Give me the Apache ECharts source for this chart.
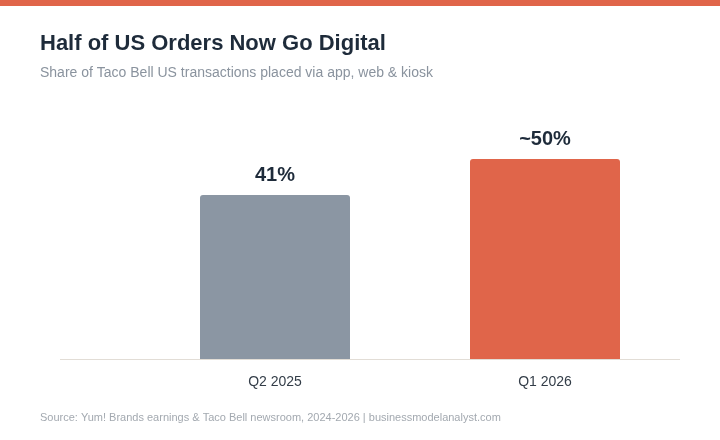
<!DOCTYPE html>
<html>
<head>
<meta charset="utf-8">
<script src="https://cdn.jsdelivr.net/npm/echarts@6/dist/echarts.min.js"></script>
<style>html,body{margin:0;padding:0;background:#fff;}#chart{width:720px;height:440px;}</style>
</head>
<body>
<div id="chart"></div>
<script>
const categories = ['Q2 2025', 'Q1 2026'];
const values = [41, 50];
const valueLabels = ['41%', '~50%'];
const barColors = ['#8b96a3', '#e0654a'];

const chart = echarts.init(document.getElementById('chart'));
const option = {
	backgroundColor: '#fff',
	animation: false,
	graphic: [
		{ type: 'rect', left: 0, top: 0, shape: { width: 720, height: 6 }, style: { fill: '#e0654a' } },
		{ type: 'text', left: 40, top: 33, style: { text: 'Half of US Orders Now Go Digital', font: 'bold 22px "Liberation Sans", Arial, sans-serif', fill: '#1e2b3a' } },
		{ type: 'text', left: 40, top: 66, style: { text: 'Share of Taco Bell US transactions placed via app, web & kiosk', font: '14px "Liberation Sans", Arial, sans-serif', fill: '#8a939e' } },
		{ type: 'line', shape: { x1: 60, y1: 359.5, x2: 680, y2: 359.5 }, style: { stroke: '#e2ddd6', lineWidth: 1 } },
		{ type: 'text', left: 40, top: 412, style: { text: 'Source: Yum! Brands earnings & Taco Bell newsroom, 2024-2026 | businessmodelanalyst.com', font: '11px "Liberation Sans", Arial, sans-serif', fill: '#a3a9b0' } }
	],
	grid: { left: 140, right: 40, top: 119, bottom: 81 },
	xAxis: {
		type: 'category',
		data: categories,
		axisLine: { show: false },
		axisTick: { show: false },
		axisLabel: { color: '#333d48', fontSize: 14, margin: 16, fontFamily: '"Liberation Sans", Arial, sans-serif' }
	},
	yAxis: { type: 'value', min: 0, max: 60, show: false },
	series: [{
		type: 'bar',
		barWidth: 150,
		data: values.map((v, i) => ({ value: v, itemStyle: { color: barColors[i], borderRadius: [3, 3, 0, 0] } })),
		label: {
			show: true,
			position: 'top',
			distance: 10,
			formatter: p => valueLabels[p.dataIndex],
			color: '#1e2b3a',
			fontSize: 20,
			fontWeight: 'bold',
			fontFamily: '"Liberation Sans", Arial, sans-serif'
		}
	}]
};
chart.setOption(option);
</script>
</body>
</html>
